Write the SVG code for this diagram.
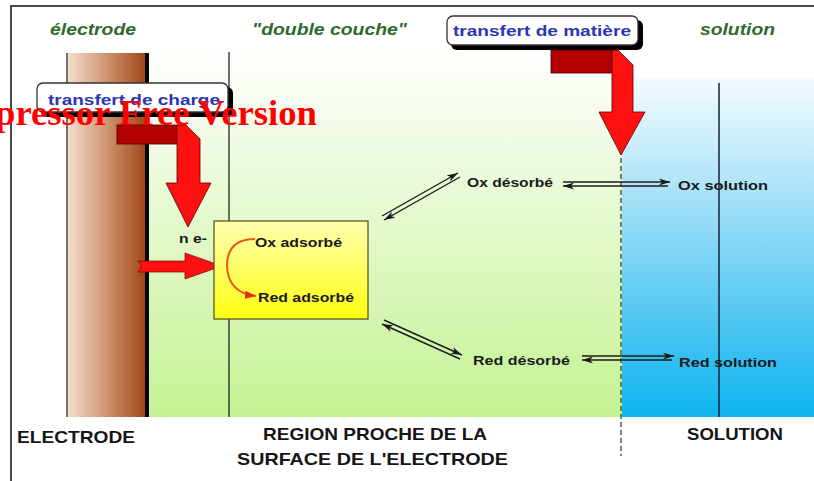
<svg xmlns="http://www.w3.org/2000/svg" width="814" height="481" viewBox="0 0 814 481">
<defs>
<style>
.lbl{font-family:"Liberation Sans",Arial,sans-serif;font-weight:bold;fill:#1a1a1a;font-size:13px}
.zone{font-family:"Liberation Sans",Arial,sans-serif;font-weight:bold;font-style:italic;fill:#2d6a2d;font-size:16px}
.box{font-family:"Liberation Sans",Arial,sans-serif;font-weight:bold;fill:#2b36b4;font-size:15px}
.big{font-family:"Liberation Sans",Arial,sans-serif;font-weight:bold;fill:#151515;font-size:17px}
.eq{stroke:#1c1c1c;stroke-width:1.4;fill:none}
.eqa{stroke:#1c1c1c;stroke-width:1.4;fill:none;marker-end:url(#ah)}
.frame{stroke:#4a4a4a;stroke-width:2;fill:none}
</style>
<linearGradient id="gBrown" x1="0" y1="0" x2="1" y2="0">
<stop offset="0" stop-color="#f3e0d2"/>
<stop offset="0.5" stop-color="#cf9570"/>
<stop offset="1" stop-color="#a2471a"/>
</linearGradient>
<linearGradient id="gGreen" gradientUnits="userSpaceOnUse" x1="0" y1="48" x2="0" y2="417">
<stop offset="0" stop-color="#ffffff"/>
<stop offset="0.3" stop-color="#eefbe0"/>
<stop offset="0.7" stop-color="#d6f6b4"/>
<stop offset="1" stop-color="#c4f393"/>
</linearGradient>
<linearGradient id="gBlue" gradientUnits="userSpaceOnUse" x1="0" y1="78" x2="0" y2="417">
<stop offset="0" stop-color="#f4fcff"/>
<stop offset="0.3" stop-color="#b2e5f8"/>
<stop offset="0.7" stop-color="#52c7f2"/>
<stop offset="1" stop-color="#0fb5f0"/>
</linearGradient>
<linearGradient id="gYellow" x1="0" y1="0" x2="0" y2="1">
<stop offset="0" stop-color="#ffffb0"/>
<stop offset="1" stop-color="#ffff10"/>
</linearGradient>
<marker id="ah" markerUnits="userSpaceOnUse" markerWidth="12" markerHeight="8" refX="11" refY="4" orient="auto">
<path d="M0,0.5 L11,4 L0,7.5 L3,4 Z" fill="#1c1c1c"/>
</marker>
<marker id="ao" markerUnits="userSpaceOnUse" markerWidth="12" markerHeight="10" refX="11" refY="5" orient="auto">
<path d="M0,1 L11,5 L0,9 Z" fill="#ee2a10"/>
</marker>
</defs>

<rect width="814" height="481" fill="#ffffff"/>

<g id="background">
<rect x="149" y="48" width="473" height="369" fill="url(#gGreen)"/>
<rect x="622" y="78" width="192" height="339" fill="url(#gBlue)"/>
<path class="frame" d="M11,481 L11,6 L814,6"/>
<line x1="229" y1="52" x2="229" y2="417" stroke="#222" stroke-width="1.3"/>
<line x1="719" y1="83" x2="719" y2="417" stroke="#15203a" stroke-width="1.5"/>
<line x1="621" y1="150" x2="621" y2="456" stroke="#2a4a2a" stroke-width="1.3" stroke-dasharray="5,3"/>
</g>

<g id="electrode">
<rect x="67" y="53" width="78" height="364" fill="url(#gBrown)"/>
<line x1="67" y1="53" x2="67" y2="417" stroke="#3a2a20" stroke-width="1.3"/>
<rect x="145" y="53" width="4" height="364" fill="#050505"/>
</g>

<g id="zone-labels">
<text class="zone" x="50" y="35" textLength="86" lengthAdjust="spacingAndGlyphs">électrode</text>
<text class="zone" x="252" y="35" textLength="155" lengthAdjust="spacingAndGlyphs">"double couche"</text>
<text class="zone" x="700" y="35" textLength="75" lengthAdjust="spacingAndGlyphs">solution</text>
</g>

<g id="transfert-charge">
<rect x="41" y="87" width="192" height="30" rx="6" fill="#000"/>
<rect x="37" y="83" width="191" height="29" rx="6" fill="#ffffff" stroke="#333" stroke-width="1.3"/>
<text class="box" x="48" y="105" textLength="172" lengthAdjust="spacingAndGlyphs">transfert de charge</text>
<rect x="117" y="125" width="61" height="19" fill="#b30000" stroke="#400" stroke-width="0.8"/>
<polygon points="177,125 186,125 200,139 200,183 211,183 188,227 166,183 177,183" fill="#ff1010" stroke="#500" stroke-width="0.8"/>
</g>

<g id="transfert-matiere">
<rect x="451" y="20" width="192" height="30" rx="6" fill="#000"/>
<rect x="447" y="16" width="191" height="29" rx="6" fill="#ffffff" stroke="#333" stroke-width="1.3"/>
<text class="box" x="453" y="36" textLength="178" lengthAdjust="spacingAndGlyphs">transfert de matière</text>
<rect x="551" y="50" width="61" height="23" fill="#b30000" stroke="#400" stroke-width="0.8"/>
<polygon points="612,50 618,50 633,65 633,112 645,112 621,155 599,112 612,112" fill="#ff1010" stroke="#500" stroke-width="0.8"/>
</g>

<g id="electrons">
<text class="lbl" x="179" y="243" font-size="12" textLength="28" lengthAdjust="spacingAndGlyphs">n e-</text>
<polygon points="138,261 185,261 185,253 222,266 185,279 185,272 138,272 142,266" fill="#ff1010" stroke="#700" stroke-width="0.7"/>
</g>

<g id="adsorbe">
<rect x="214" y="221" width="154" height="98" fill="url(#gYellow)" stroke="#5a5a20" stroke-width="1.3"/>
<text class="lbl" x="255" y="247" textLength="87" lengthAdjust="spacingAndGlyphs">Ox adsorbé</text>
<text class="lbl" x="258" y="302" textLength="96" lengthAdjust="spacingAndGlyphs">Red adsorbé</text>
<path d="M255,239 Q227,239 227,266 Q228,293 256,296" fill="none" stroke="#e8581a" stroke-width="2" marker-end="url(#ao)"/>
</g>

<g id="ox-desorbe">
<text class="lbl" x="467" y="187" textLength="86" lengthAdjust="spacingAndGlyphs">Ox désorbé</text>
</g>
<g id="ox-solution">
<text class="lbl" x="678" y="190" textLength="90" lengthAdjust="spacingAndGlyphs">Ox solution</text>
</g>
<g id="red-desorbe">
<text class="lbl" x="473" y="365" textLength="97" lengthAdjust="spacingAndGlyphs">Red désorbé</text>
</g>
<g id="red-solution">
<text class="lbl" x="679" y="367" textLength="98" lengthAdjust="spacingAndGlyphs">Red solution</text>
</g>

<g id="connectors">
<line class="eqa" x1="382" y1="216" x2="458" y2="173"/>
<line class="eqa" x1="460" y1="177" x2="384" y2="220"/>
<line class="eqa" x1="563" y1="182" x2="670" y2="182"/>
<line class="eqa" x1="668" y1="186" x2="563" y2="186"/>
<line class="eqa" x1="384" y1="320" x2="462" y2="355"/>
<line class="eqa" x1="460" y1="359" x2="382" y2="324"/>
<line class="eqa" x1="582" y1="356" x2="674" y2="356"/>
<line class="eqa" x1="672" y1="360" x2="582" y2="360"/>
</g>

<g id="bottom-labels">
<text class="big" x="17" y="443" textLength="118" lengthAdjust="spacingAndGlyphs">ELECTRODE</text>
<text class="big" x="263" y="440" textLength="224" lengthAdjust="spacingAndGlyphs">REGION PROCHE DE LA</text>
<text class="big" x="237" y="465" textLength="271" lengthAdjust="spacingAndGlyphs">SURFACE DE L'ELECTRODE</text>
<text class="big" x="687" y="440" textLength="96" lengthAdjust="spacingAndGlyphs">SOLUTION</text>
</g>

<text x="-5" y="125" font-family="'Liberation Serif','Times New Roman',serif" font-weight="bold" font-size="35" fill="#ff0000" textLength="322" lengthAdjust="spacingAndGlyphs">pressor Free Version</text>
</svg>
